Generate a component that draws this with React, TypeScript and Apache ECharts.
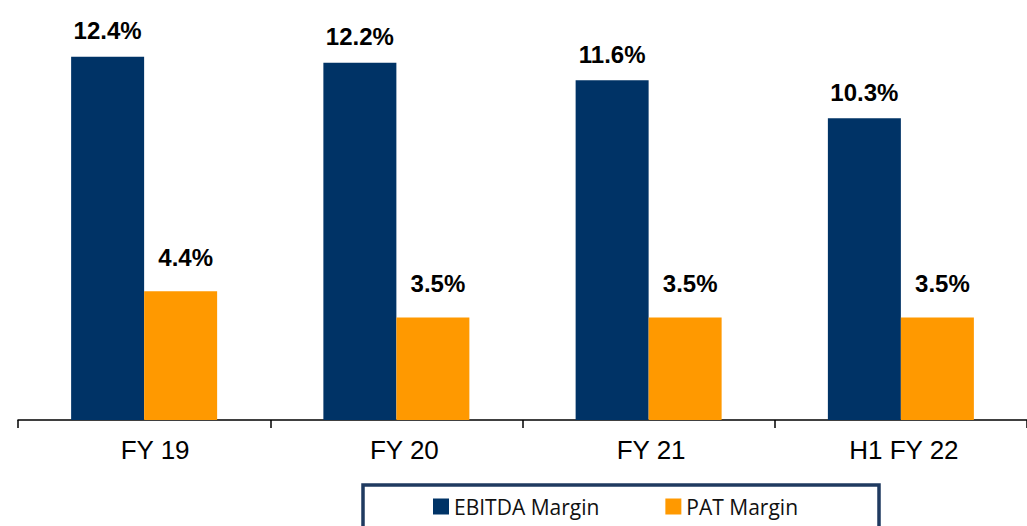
import React, { useEffect, useRef } from "react";
import * as echarts from "echarts";

const categories = ["FY 19", "FY 20", "FY 21", "H1 FY 22"];
const ebitdaMargin = [12.4, 12.2, 11.6, 10.3];
const patMargin = [4.4, 3.5, 3.5, 3.5];
const seriesNames = ["EBITDA Margin", "PAT Margin"];

const labelShift = [22, 16, 5, 6];

export default function App() {
  const ref = useRef<HTMLDivElement>(null);
  useEffect(() => {
    if (!ref.current) return;
    const chart = echarts.init(ref.current, null, { renderer: "svg" });
    const baseLabel = {
      show: true,
      position: "top",
      fontFamily: "Liberation Sans, Arial, sans-serif",
      fontWeight: "bold",
      fontSize: 24,
      color: "#000",
      formatter: (p: any) => p.value.toFixed(1) + "%",
    };
    const axisFont = {
      color: "#000",
      fontFamily: "Liberation Sans, Arial, sans-serif",
      fontSize: 26,
    };
    const rich: any = {};
    labelShift.forEach((s, i) => {
      rich["c" + i] = { ...axisFont, padding: [0, 0, 0, s] };
    });
    chart.setOption({
      animation: false,
      grid: { left: 18, top: 10, width: 1012, height: 410, containLabel: false },
      xAxis: {
        type: "category",
        data: categories,
        axisLine: { show: true, lineStyle: { color: "#000", width: 1.5 } },
        axisTick: { show: true, length: 8, lineStyle: { color: "#000", width: 1.5 } },
        axisLabel: {
          ...axisFont,
          margin: 17,
          formatter: (v: string, i: number) => `{c${i}|${v}}`,
          rich,
        },
      },
      yAxis: {
        type: "value",
        min: 0,
        max: 14,
        show: false,
        splitLine: { show: false },
      },
      legend: {
        data: seriesNames,
        left: 428,
        top: 491,
        itemWidth: 16,
        itemHeight: 16,
        itemGap: 66,
        icon: "rect",
        textStyle: {
          fontFamily: "Open Sans, Noto Sans, sans-serif",
          fontSize: 21,
          color: "#111",
          padding: [0, 0, 0, 0],
        },
      },
      graphic: [
        {
          type: "rect",
          shape: { x: 363, y: 485, width: 516, height: 50 },
          style: { fill: "#fff", stroke: "#1F3A60", lineWidth: 3.5 },
          z: -1,
        },
      ],
      series: [
        {
          name: seriesNames[0],
          type: "bar",
          data: ebitdaMargin,
          barWidth: 73,
          barGap: "0%",
          itemStyle: { color: "#003366" },
          label: { ...baseLabel, distance: 14 },
        },
        {
          name: seriesNames[1],
          type: "bar",
          data: patMargin,
          barWidth: 73,
          itemStyle: { color: "#FF9900" },
          label: { ...baseLabel, distance: 22, offset: [5, 0] },
        },
      ],
    });
    return () => chart.dispose();
  }, []);
  return (
    <div
      ref={ref}
      style={{ position: "absolute", left: 0, top: 0, width: 1027, height: 526 }}
    />
  );
}
